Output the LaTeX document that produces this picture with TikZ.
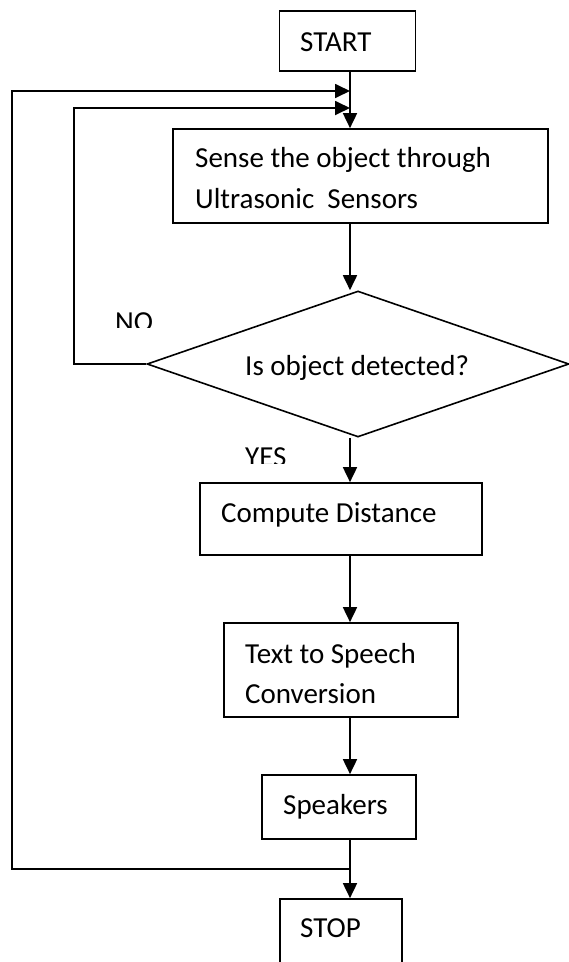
\documentclass[tikz,border=0pt]{standalone}
\usepackage{fontspec}
\setmainfont{Carlito}
\usetikzlibrary{arrows.meta,shapes.geometric}
\begin{document}
\begin{tikzpicture}[x=1pt,y=-1pt,
  box/.style={draw=black,line width=1.7pt,rectangle,inner sep=0pt},
  txt/.style={inner sep=0pt,anchor=west,align=left,font=\fontsize{29}{41}\selectfont},
  flow/.style={line width=1.8pt,-{Triangle[length=15pt,width=14pt]}}]
\clip (0,0) rectangle (569,962);
\fill[white] (0,0) rectangle (569,962);
% boxes
\node[box,minimum width=136pt,minimum height=60pt] (start) at (347.5,41) {};
\node[box,minimum width=375pt,minimum height=94pt] (sense) at (360.5,176) {};
\node[draw=black,line width=1.6pt,diamond,inner sep=0pt,minimum width=422pt,minimum height=146pt] (dec) at (358,364) {};
\node[box,minimum width=282pt,minimum height=72pt] (comp) at (341,519) {};
\node[box,minimum width=234pt,minimum height=94pt] (tts) at (341,670) {};
\node[box,minimum width=154pt,minimum height=64pt] (spk) at (339,807) {};
\node[box,minimum width=122pt,minimum height=80pt] (stop) at (341,939) {};
% texts
\node[txt] (startT) at (300,42) {START};
\node[txt,font=\fontsize{29}{41}\selectfont] (senseT) at (195,178) {Sense the object through\\Ultrasonic\ \ Sensors};
\node[txt] (decT) at (245,368) {Is object detected?};
\node[txt] (compT) at (221,515) {Compute Distance};
\node[txt,font=\fontsize{29}{40}\selectfont] (ttsT) at (245,674) {Text to Speech\\Conversion};
\node[txt] (spkT) at (283,807) {Speakers};
\node[txt] (stopT) at (300,928) {STOP};
\begin{scope}
\clip (100,300) rectangle (170,327);
\node[txt] (noT) at (115,322) {NO};
\end{scope}
\begin{scope}
\clip (230,440) rectangle (300,463);
\node[txt] (yesT) at (245,457) {YES};
\end{scope}
% coordinates for connectors
\coordinate (j1) at (350,91);
\coordinate (j2) at (350,108);
\coordinate (j3) at (350,869);
% main flow
\draw[flow] (start.south -| j1) -- (sense.north -| j1);
\draw[flow] (sense.south -| j1) -- (dec.north -| j1);
\draw[flow] (dec.south -| j1) -- (comp.north -| j1);
\draw[flow] (comp.south -| j1) -- (tts.north -| j1);
\draw[flow] (tts.south -| j1) -- (spk.north -| j1);
\draw[flow] (spk.south -| j1) -- (stop.north -| j1);
% loops
\draw[flow] (j3) -- (12,869) -- (12,91) -- (j1);
\draw[flow] (dec.west) -- (74,364) -- (74,108) -- (j2);
\end{tikzpicture}
\end{document}
